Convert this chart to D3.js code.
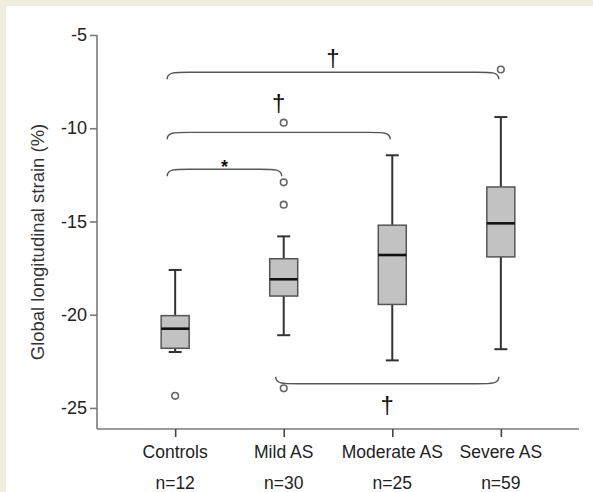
<!DOCTYPE html>
<html>
<head>
<meta charset="utf-8">
<script src="https://cdn.jsdelivr.net/npm/d3@7"></script>
<style>
  body { margin: 0; background: #fff; }
  svg { display: block; }
</style>
</head>
<body>
<div id="chart"></div>
<script>
// data
const groups = ["Controls", "Mild AS", "Moderate AS", "Severe AS"];
const counts = ["n=12", "n=30", "n=25", "n=59"];
const whiskerHigh = [-17.6, -15.8, -11.45, -9.4];
const q3 = [-20.05, -17.0, -15.2, -13.15];
const medians = [-20.75, -18.1, -16.8, -15.1];
const q1 = [-21.8, -19.0, -19.45, -16.9];
const whiskerLow = [-22.0, -21.1, -22.45, -21.85];
const outliers = [
    { group: "Controls", value: -24.35 },
    { group: "Mild AS", value: -9.7 },
    { group: "Mild AS", value: -12.9 },
    { group: "Mild AS", value: -14.1 },
    { group: "Mild AS", value: -23.95 },
    { group: "Severe AS", value: -6.85 }
];
const yTicks = [-5, -10, -15, -20, -25];

// significance brackets: level = horizontal line, markAt = symbol position, dir = 1 ends curve down
const brackets = [
    { from: "Controls", to: "Mild AS", level: -12.2, mark: "*", markAt: -11.7, dir: 1 },
    { from: "Controls", to: "Moderate AS", level: -10.22, mark: "\u2020", markAt: -8.6, dir: 1 },
    { from: "Controls", to: "Severe AS", level: -7.0, mark: "\u2020", markAt: -6.2, dir: 1 },
    { from: "Mild AS", to: "Severe AS", level: -23.7, mark: "\u2020", markAt: -24.8, dir: -1 }
];

const width = 593, height = 492;
const axisLeft = 97, axisRight = 579, axisTop = 35, axisBottom = 429;

const svg = d3.select("#chart").append("svg")
    .attr("width", width)
    .attr("height", height);

// cream frame (top and left only)
svg.append("rect").attr("x", 0).attr("y", 0).attr("width", width).attr("height", height).attr("fill", "#efece2");
svg.append("rect").attr("x", 6).attr("y", 6).attr("width", width - 6).attr("height", height - 6).attr("fill", "#fff");

const x = d3.scalePoint()
    .domain(groups)
    .range([axisLeft, axisRight])
    .padding(0.72);

const y = d3.scaleLinear()
    .domain([-26.13, -5])
    .range([axisBottom, axisTop]);

const font = "'Liberation Sans', Arial, sans-serif";
const axisColor = "#7a7a7a";

// y axis
const yAxis = svg.append("g")
    .attr("transform", `translate(${axisLeft},0)`)
    .call(d3.axisLeft(y).tickValues(yTicks).tickSize(7).tickPadding(3).tickSizeOuter(0).tickFormat(d => String(d)));
yAxis.select(".domain").attr("stroke", axisColor).attr("stroke-width", 1.6).attr("d", `M0,${axisTop}V${axisBottom}`);
yAxis.selectAll(".tick line").attr("stroke", axisColor).attr("stroke-width", 1.6);
yAxis.selectAll(".tick text")
    .attr("fill", "#222")
    .style("font-family", font)
    .style("font-size", "18px");

// x axis
const xAxis = svg.append("g")
    .attr("transform", `translate(0,${axisBottom})`)
    .call(d3.axisBottom(x).tickSize(8).tickSizeOuter(0).tickFormat(""));
xAxis.select(".domain").attr("stroke", axisColor).attr("stroke-width", 1.6).attr("d", `M${axisLeft},0H${axisRight}`);
xAxis.selectAll(".tick line").attr("stroke", "#444").attr("stroke-width", 1.6);

const catLabels = svg.append("g");
catLabels.selectAll(".cat")
    .data(groups)
    .enter()
    .append("text")
    .attr("x", d => x(d))
    .attr("y", 458)
    .attr("text-anchor", "middle")
    .style("font-family", font)
    .style("font-size", "17.5px")
    .attr("fill", "#222")
    .text(d => d);
catLabels.selectAll(".cnt")
    .data(groups)
    .enter()
    .append("text")
    .attr("x", d => x(d))
    .attr("y", 489)
    .attr("text-anchor", "middle")
    .style("font-family", font)
    .style("font-size", "17.5px")
    .attr("fill", "#222")
    .text((d, i) => counts[i]);

// y axis title
svg.append("text")
    .attr("transform", `translate(44,242) rotate(-90)`)
    .attr("text-anchor", "middle")
    .style("font-family", font)
    .style("font-size", "18.5px")
    .attr("fill", "#333")
    .text("Global longitudinal strain (%)");

// boxes
const boxW = 28, capW = 13;
const boxData = groups.map((g, i) => ({
    group: g, hi: whiskerHigh[i], q3: q3[i], med: medians[i], q1: q1[i], lo: whiskerLow[i]
}));

const boxes = svg.selectAll(".box")
    .data(boxData)
    .enter()
    .append("g")
    .attr("class", "box")
    .attr("transform", d => `translate(${x(d.group)},0)`);

boxes.append("line")
    .attr("y1", d => y(d.hi)).attr("y2", d => y(d.q3))
    .attr("stroke", "#333").attr("stroke-width", 2);
boxes.append("line")
    .attr("y1", d => y(d.q1)).attr("y2", d => y(d.lo))
    .attr("stroke", "#333").attr("stroke-width", 2);
boxes.append("line")
    .attr("x1", -capW / 2).attr("x2", capW / 2)
    .attr("y1", d => y(d.hi)).attr("y2", d => y(d.hi))
    .attr("stroke", "#333").attr("stroke-width", 2);
boxes.append("line")
    .attr("x1", -capW / 2).attr("x2", capW / 2)
    .attr("y1", d => y(d.lo)).attr("y2", d => y(d.lo))
    .attr("stroke", "#333").attr("stroke-width", 2);
boxes.append("rect")
    .attr("x", -boxW / 2)
    .attr("y", d => y(d.q3))
    .attr("width", boxW)
    .attr("height", d => y(d.q1) - y(d.q3))
    .attr("fill", "#c2c2c2")
    .attr("stroke", "#555")
    .attr("stroke-width", 1.5);
boxes.append("line")
    .attr("x1", -boxW / 2).attr("x2", boxW / 2)
    .attr("y1", d => y(d.med)).attr("y2", d => y(d.med))
    .attr("stroke", "#111").attr("stroke-width", 2.6);

// outliers
svg.selectAll(".outlier")
    .data(outliers)
    .enter()
    .append("circle")
    .attr("cx", d => x(d.group))
    .attr("cy", d => y(d.value))
    .attr("r", 3.3)
    .attr("fill", "#fff")
    .attr("stroke", "#666")
    .attr("stroke-width", 1.6);

// brackets
brackets.forEach(b => {
    const x0 = x(b.from) - 8, x1 = x(b.to) - 2;
    const yl = y(b.level), ye = yl + 7 * b.dir;
    const r = 22;
    const p = d3.path();
    p.moveTo(x0, ye);
    p.bezierCurveTo(x0, yl, x0 + r * 0.3, yl, x0 + r, yl);
    p.lineTo(x1 - r, yl);
    p.bezierCurveTo(x1 - r * 0.3, yl, x1, yl, x1, ye);
    svg.append("path")
        .attr("d", p.toString())
        .attr("fill", "none")
        .attr("stroke", "#555")
        .attr("stroke-width", 1.4);

    const star = b.mark === "*";
    svg.append("text")
        .attr("x", (x0 + x1) / 2)
        .attr("y", y(b.markAt) + (star ? 13 : 9))
        .attr("text-anchor", "middle")
        .style("font-family", font)
        .style("font-size", star ? "18px" : "24px")
        .style("font-weight", star ? "bold" : "normal")
        .attr("fill", "#111")
        .text(b.mark);
});
</script>
</body>
</html>
